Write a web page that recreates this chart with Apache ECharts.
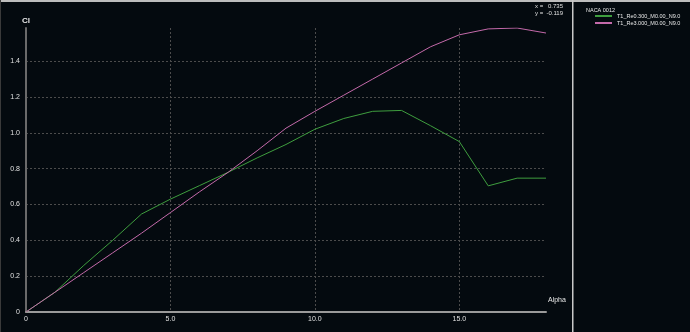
<!DOCTYPE html>
<html>
<head>
<meta charset="utf-8">
<script src="https://cdn.jsdelivr.net/npm/echarts@6/dist/echarts.min.js"></script>
<style>
html,body{margin:0;padding:0;background:#040a0f;}
#c{width:690px;height:332px;}
</style>
</head>
<body>
<div id="c"></div>
<script>
const alpha = [0,1,2,3,4,5,6,7,8,9,10,11,12,13,14,15,16,17,18];
const clRe03 = [0,0.11,0.26,0.40,0.547,0.63,0.705,0.78,0.86,0.935,1.02,1.08,1.12,1.125,1.04,0.951,0.704,0.747,0.747];
const clRe3 = [0,0.11,0.22,0.33,0.44,0.555,0.67,0.78,0.90,1.026,1.12,1.21,1.30,1.39,1.48,1.547,1.58,1.585,1.557];
const seriesNames = ['T1_Re0.300_M0.00_N9.0','T1_Re3.000_M0.00_N9.0'];
const plotTitle = 'NACA 0012';
const readout = ['x =', '0.735', 'y =', '-0.119'];

const chart = echarts.init(document.getElementById('c'));
const font = 'Liberation Sans, Arial, sans-serif';
const fmt = v => v === 0 ? '0' : v.toFixed(1);
chart.setOption({
  backgroundColor: '#040a0f',
  animation: false,
  title: {text: plotTitle, left: 586, top: 7, padding: 0, textStyle: {color: '#e8e8e8', fontSize: 5.5, fontWeight: 'normal', fontFamily: font}},
  legend: {
    orient: 'vertical', left: 595, top: 13, padding: 0, itemWidth: 17, itemHeight: 2, itemGap: 1, icon: 'rect',
    textStyle: {color: '#e8e8e8', fontSize: 5.5, fontFamily: font, lineHeight: 5, padding: [0,0,0,0]},
    data: seriesNames
  },
  grid: {left: 26, right: 144, top: 28, bottom: 20},
  xAxis: {
    type: 'value', min: 0, max: 18, interval: 5,
    name: 'Alpha', nameLocation: 'end', nameGap: 2,
    nameTextStyle: {color: '#e8e8e8', fontSize: 7, fontFamily: font, verticalAlign: 'bottom', padding: [0,0,8,0]},
    axisLine: {show: true, lineStyle: {color: '#9a9a9a', width: 2}},
    axisTick: {show: false},
    axisLabel: {color: '#e0e0e0', fontSize: 7, fontFamily: font, margin: 4, formatter: fmt, showMaxLabel: false},
    splitLine: {show: true, showMinLine: false, showMaxLine: false, lineStyle: {color: '#4c4c4c', type: [2,2], width: 1}}
  },
  yAxis: {
    type: 'value', min: 0, max: 1.585, interval: 0.2,
    name: 'Cl', nameLocation: 'end', nameGap: 3,
    nameTextStyle: {color: '#e8e8e8', fontSize: 8, fontFamily: font, fontWeight: 'bold'},
    axisLine: {show: true, lineStyle: {color: '#6a6a6a', width: 2}},
    axisTick: {show: false},
    axisLabel: {color: '#e0e0e0', fontSize: 7, fontFamily: font, margin: 6, formatter: fmt, showMaxLabel: false},
    splitLine: {show: true, showMinLine: false, showMaxLine: false, lineStyle: {color: '#4c4c4c', type: [2,2], width: 1}}
  },
  graphic: [
    {type: 'rect', shape: {x: 0, y: 0, width: 690, height: 2}, style: {fill: '#bdbdbd'}},
    {type: 'rect', shape: {x: 0, y: 0, width: 1, height: 332}, style: {fill: '#3a3a3a'}},
    {type: 'rect', shape: {x: 572, y: 0, width: 1.5, height: 332}, style: {fill: '#c8c8c8'}},
    {type: 'text', left: 535, top: 3, style: {text: readout[0], fill: '#e0e0e0', font: '6px ' + font}},
    {type: 'text', right: 690 - 563, top: 3, style: {text: readout[1], fill: '#e0e0e0', font: '6px ' + font, align: 'right'}},
    {type: 'text', left: 535, top: 10, style: {text: readout[2], fill: '#e0e0e0', font: '6px ' + font}},
    {type: 'text', right: 690 - 563, top: 10, style: {text: readout[3], fill: '#e0e0e0', font: '6px ' + font, align: 'right'}}
  ],
  series: [
    {name: seriesNames[0], type: 'line', data: alpha.map((a,i)=>[a, clRe03[i]]), showSymbol: false, lineStyle: {color: '#3f9e3f', width: 1}, itemStyle: {color: '#3f9e3f'}},
    {name: seriesNames[1], type: 'line', data: alpha.map((a,i)=>[a, clRe3[i]]), showSymbol: false, lineStyle: {color: '#c46aaa', width: 1}, itemStyle: {color: '#c46aaa'}}
  ]
});
</script>
</body>
</html>
